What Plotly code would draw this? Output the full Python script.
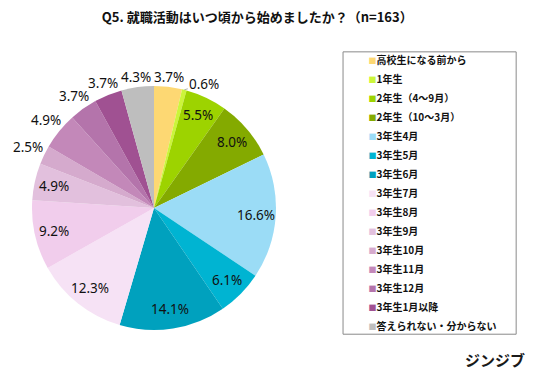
import math
import plotly.graph_objects as go

categories = ["高校生になる前から", "1年生", "2年生（4～9月）", "2年生（10～3月）",
              "3年生4月", "3年生5月", "3年生6月", "3年生7月", "3年生8月", "3年生9月",
              "3年生10月", "3年生11月", "3年生12月", "3年生1月以降", "答えられない・分からない"]
percent_values = [3.7, 0.6, 5.5, 8.0, 16.6, 6.1, 14.1, 12.3, 9.2, 4.9, 2.5, 4.9, 3.7, 3.7, 4.3]
colors = ["#FDD873", "#CCF53A", "#9DD300", "#84AA00", "#9BDCF6", "#00B4D2", "#00A1BE",
          "#F6E2F5", "#F1CDEC", "#E2C0DD", "#D5AACD", "#C388B9", "#B474AB", "#A05192", "#BEBEBE"]
label_inside = [False, False, True, True, True, True, True,
                True, True, True, False, False, False, False, False]
leader_line = [False, True] + [False] * 13

W, H = 536, 373
dom_x = [0.0597, 0.5149]
dom_y = [0.1153, 0.7694]

fig = go.Figure()
fig.add_trace(go.Pie(
    labels=categories, values=percent_values, sort=False, direction="clockwise", rotation=0,
    marker=dict(colors=colors, line=dict(width=0)),
    textinfo="none", showlegend=False, hoverinfo="label+value",
    domain=dict(x=dom_x, y=dom_y),
))
for c, col in zip(categories, colors):
    fig.add_trace(go.Scatter(
        x=[None], y=[None], mode="markers",
        name=f'<span style="color:{col};font-size:8px">■</span><b>{c}</b>',
        marker=dict(symbol="square", size=1, color="rgba(0,0,0,0)")))

# percentage labels placed from the slice angles of the pie
cx = sum(dom_x) / 2
cy = sum(dom_y) / 2
r_px = min((dom_x[1] - dom_x[0]) * W, (dom_y[1] - dom_y[0]) * H) / 2
total = sum(percent_values)
label_font = dict(family="Noto Sans", size=13.5, color="#111111")
annotations = []
cum = 0.0
for v, inside, lead in zip(percent_values, label_inside, leader_line):
    theta = 2 * math.pi * (cum + v / 2) / total
    cum += v
    s, c = math.sin(theta), math.cos(theta)
    if lead:
        annotations.append(dict(
            x=cx + r_px * s / W, y=cy + r_px * c / H, xref="paper", yref="paper",
            text=f"{v:.1f}%", showarrow=True, arrowhead=0, arrowwidth=0.8,
            arrowcolor="#9a9a9a", ax=20, ay=-6, standoff=0, font=label_font))
        continue
    if inside:
        d = 0.84 * r_px
    else:
        d = r_px + 1 + abs(s) * 15 + abs(c) * 7
    annotations.append(dict(
        x=cx + d * s / W, y=cy + d * c / H, xref="paper", yref="paper",
        xanchor="center", yanchor="middle", text=f"{v:.1f}%",
        showarrow=False, font=label_font))

annotations.append(dict(text="<b>ジンジブ</b>", x=0.983, y=0.035, xref="paper", yref="paper",
                        xanchor="right", yanchor="middle", showarrow=False,
                        font=dict(family="Noto Sans CJK JP", size=15, color="#1a1a1a")))

# legend frame
fig.add_shape(type="rect", xref="paper", yref="paper",
              x0=0.64, x1=0.963, y0=0.104, y1=0.861,
              line=dict(color="#8a8a8a", width=1), fillcolor="rgba(0,0,0,0)", layer="below")

fig.update_layout(
    width=W, height=H, margin=dict(l=0, r=0, t=0, b=0),
    paper_bgcolor="white", plot_bgcolor="white",
    xaxis=dict(visible=False), yaxis=dict(visible=False),
    title=dict(text="<b>Q5. 就職活動はいつ頃から始めましたか？（n=163）</b>",
               x=0.48, xanchor="center", y=0.953, yanchor="middle",
               font=dict(family="Noto Sans CJK JP", size=13, color="#111111")),
    legend=dict(x=0.613, y=0.879, xanchor="left", yanchor="top",
                borderwidth=0, bgcolor="rgba(0,0,0,0)",
                font=dict(family="Noto Sans CJK JP", size=10, color="#111111"),
                tracegroupgap=0, itemwidth=30),
    annotations=annotations,
)
fig.write_html("out.html", config={"displayModeBar": False},
               post_script="document.body.style.margin='0';")
